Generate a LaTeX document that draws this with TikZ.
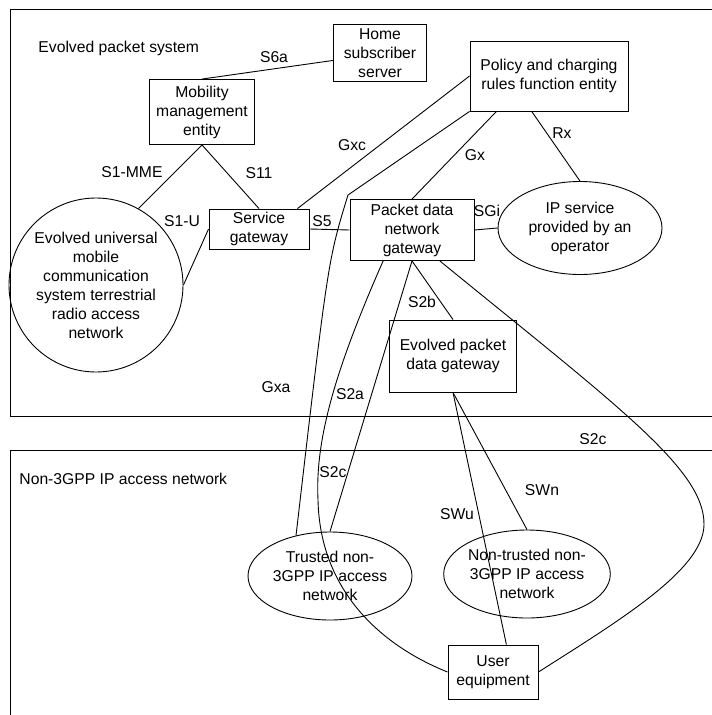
\documentclass[tikz,border=0pt]{standalone}
\usepackage{fontspec}
\setmainfont{Liberation Sans}
\usetikzlibrary{shapes.geometric}

\tikzset{
  box/.style={draw, rectangle, inner sep=0pt, align=center},
  oval/.style={draw, ellipse, inner sep=0pt, align=center},
  lbl/.style={inner sep=0pt},
  link/.style={line width=0.9pt}
}

\begin{document}
\begin{tikzpicture}[x=1pt, y=-1pt, line width=0.9pt,
  every node/.style={font=\fontsize{15.7}{19}\selectfont}]
\useasboundingbox (0,0) rectangle (712,715);

\draw (712,9) -- (10,9) -- (10,416) -- (712,416);
\draw (712,450) -- (10,450) -- (10,715);
\node[lbl, anchor=west] (eps) at (38,48) {Evolved packet system};
\node[lbl, anchor=west] (non3gpp) at (19,479) {Non-3GPP IP access network};

\node[box, minimum width=93, minimum height=57] (hss) at (380,53) {Home\\subscriber\\server};
\node[box, minimum width=105, minimum height=65] (mme) at (202,112) {Mobility\\management\\entity};
\node[box, minimum width=158, minimum height=70] (pcrf) at (549,76) {Policy and charging\\rules function entity};
\node[box, minimum width=100, minimum height=40] (sgw) at (259,229) {Service\\gateway};
\node[box, minimum width=124, minimum height=61] (pdn) at (412,230) {Packet data\\network\\gateway};
\node[oval, minimum width=164, minimum height=93] (ip) at (580,228) {IP service\\provided by an\\operator};
\node[draw, circle, inner sep=0pt, align=center, minimum size=174] (eutran) at (96,285)
  {Evolved universal\\mobile\\communication\\system terrestrial\\radio access\\network};
\node[box, minimum width=127, minimum height=72] (epdg) at (453,356) {Evolved packet\\data gateway};
\node[oval, minimum width=164, minimum height=88] (trusted) at (330,576) {Trusted non-\\3GPP IP access\\network};
\node[oval, minimum width=159, minimum height=88] (untrusted) at (527,574) {Non-trusted non-\\3GPP IP access\\network};
\node[box, minimum width=90, minimum height=54] (ue) at (493,672) {User\\equipment};

\coordinate (gxabend) at (348,195);
\coordinate (s2cleft) at (318,500);
\coordinate (s2cright) at (704,525);

\draw[link] (mme.north) -- (hss.189);
\draw[link] (mme.south) -- (eutran.61);
\draw[link] (mme.south) -- (sgw.north);
\draw[link] (sgw.west) -- (eutran.east);
\draw[link] (sgw.east) -- (pdn.west);
\draw[link] (sgw.28) -- (pcrf.west);
\draw[link] (pcrf.south west) -- (gxabend) .. controls (328,260) .. (trusted.130);
\draw[link] (pcrf.214) -- (pdn.north);
\draw[link] (pcrf.244) -- (ip.north);
\draw[link] (pdn.east) -- (ip.west);
\draw[link] (pdn.south) -- (epdg.north);
\draw[link] (pdn.south) -- (trusted.north);
\draw[link] (pdn.227) .. controls (335,370) and (315,440) .. (s2cleft)
  .. controls (320,590) and (380,645) .. (ue.west);
\draw[link] (pdn.312) .. controls (620,408) and (705,470) .. (s2cright)
  .. controls (703,570) and (620,620) .. (ue.east);
\draw[link] (epdg.south) -- (untrusted.north);
\draw[link] (epdg.south) -- (ue.64);

\node[lbl] (l-s6a) at (274,57) {S6a};
\node[lbl] (l-s1mme) at (132,172) {S1-MME};
\node[lbl] (l-s11) at (259,173) {S11};
\node[lbl] (l-s1u) at (182,221) {S1-U};
\node[lbl] (l-s5) at (322,221) {S5};
\node[lbl] (l-gxc) at (352,145) {Gxc};
\node[lbl] (l-gx) at (475,155) {Gx};
\node[lbl] (l-rx) at (562,133) {Rx};
\node[lbl] (l-sgi) at (487,211) {SGi};
\node[lbl] (l-s2b) at (422,302) {S2b};
\node[lbl] (l-gxa) at (276,387) {Gxa};
\node[lbl] (l-s2a) at (350,394) {S2a};
\node[lbl] (l-s2cl) at (333,472) {S2c};
\node[lbl] (l-s2cr) at (593,439) {S2c};
\node[lbl] (l-swn) at (542,490) {SWn};
\node[lbl] (l-swu) at (457,514) {SWu};
\end{tikzpicture}
\end{document}
